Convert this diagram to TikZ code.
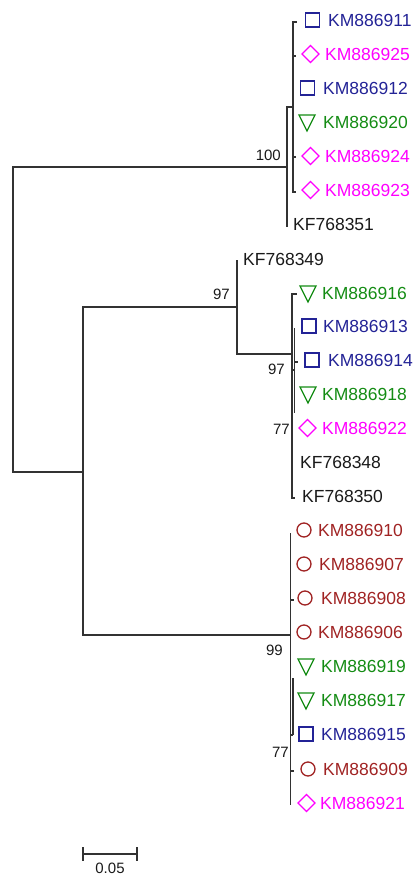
\documentclass[tikz,border=0pt]{standalone}
\usepackage{fontspec}
\setmainfont{Liberation Sans}
\usetikzlibrary{calc}
\definecolor{cblue}{RGB}{35,35,150}
\definecolor{cmag}{RGB}{255,0,255}
\definecolor{cgreen}{RGB}{20,140,20}
\definecolor{cred}{RGB}{160,35,35}
\definecolor{cline}{RGB}{50,50,50}
\definecolor{ctext}{RGB}{25,25,25}
\tikzset{
  br/.style={draw=cline,line width=1.3pt},
  lab/.style={anchor=west,inner sep=0pt,font=\fontsize{17.5}{20}\selectfont},
  bs/.style={anchor=east,inner sep=0pt,font=\fontsize{15}{18}\selectfont,text=ctext},
  mk/.style={line width=1.3pt},
  sqmk/.pic={\draw[mk,cblue] (-7,-7) rectangle (7,7);},
  diamk/.pic={\draw[mk,cmag] (-8.5,0) -- (0,-8.5) -- (8.5,0) -- (0,8.5) -- cycle;},
  trimk/.pic={\draw[mk,cgreen,line join=miter] (-8,-7) -- (8,-7) -- (0,9) -- cycle;},
  cirmk/.pic={\draw[mk,cred] (0,0) circle[radius=7];}
}
\begin{document}
\begin{tikzpicture}[x=1pt,y=-1pt]
\useasboundingbox (0,0) rectangle (415,875);
% tree coordinates
\coordinate (root) at (13,320);
\coordinate (T) at (287,167);
\coordinate (S) at (293,107);
\coordinate (t0) at (297,22);
\coordinate (t1) at (296,56);
\coordinate (t2) at (293,89);
\coordinate (t3) at (293,123);
\coordinate (t4) at (296,157);
\coordinate (t5) at (296,192);
\coordinate (t6) at (287,227);
\coordinate (L) at (83,472);
\coordinate (A) at (237,307);
\coordinate (t7) at (237,260);
\coordinate (B) at (292,354);
\coordinate (t8) at (297,294);
\coordinate (C) at (294.5,370);
\coordinate (t9) at (294.5,328);
\coordinate (t10) at (298,362);
\coordinate (c2) at (294.5,413);
\coordinate (t11) at (292,395);
\coordinate (t12) at (292,429);
\coordinate (t13) at (292,463);
\coordinate (t14) at (295,498);
\coordinate (N) at (290.5,635);
\coordinate (t15) at (290.5,533);
\coordinate (t17) at (294,600);
\coordinate (t22) at (294,771);
\coordinate (t23) at (290.5,805);
\coordinate (M) at (293,735);
\coordinate (m1) at (293,678);
% branches
\draw[br] (root) |- (T);
\draw[br] (root) |- (L);
\draw[br] (T) |- (S);
\draw[br] (T) |- (t6);
\foreach \t in {t0,t1,t2,t3,t4,t5} {\draw[br] (S) |- (\t);}
\draw[br] (L) |- (A);
\draw[br] (L) |- (N);
\draw[br] (A) |- (t7);
\draw[br] (A) |- (B);
\foreach \t in {t8,C,t11,t12,t13,t14} {\draw[br] (B) |- (\t);}
\foreach \t in {t9,t10,c2} {\draw[br] (C) |- (\t);}
\foreach \t in {t15,t17,t22,t23,M} {\draw[br] (N) |- (\t);}
\draw[br] (M) -- (m1);
% bootstrap values
\node[bs] (b100) at (281,155) {100};
\node[bs] (b97a) at (230,294) {97};
\node[bs] (b97b) at (285,369) {97};
\node[bs] (b77a) at (290,429) {77};
\node[bs] (b99) at (283,650) {99};
\node[bs] (b77b) at (289,752) {77};
% leaves: markers and labels
\pic at (312.5,20) {sqmk};   \node[lab,text=cblue]  (n0)  at (328,20)  {KM886911};
\pic at (310.5,54) {diamk}; \node[lab,text=cmag]  (n1)  at (325,54)  {KM886925};
\pic at (307.5,88) {sqmk};   \node[lab,text=cblue]  (n2)  at (323,88)  {KM886912};
\pic at (307,122) {trimk}; \node[lab,text=cgreen] (n3)  at (323,122) {KM886920};
\pic at (310.5,156) {diamk};\node[lab,text=cmag]  (n4)  at (325,156) {KM886924};
\pic at (310.5,190) {diamk};\node[lab,text=cmag]  (n5)  at (325,190) {KM886923};
\node[lab,text=ctext] (n6) at (293,224) {KF768351};
\node[lab,text=ctext] (n7) at (243,259) {KF768349};
\pic at (308,293) {trimk}; \node[lab,text=cgreen] (n8)  at (322,293) {KM886916};
\pic at (309,326) {sqmk};  \node[lab,text=cblue]  (n9)  at (323,326) {KM886913};
\pic at (312,360) {sqmk};  \node[lab,text=cblue]  (n10) at (328,360) {KM886914};
\pic at (308,394) {trimk}; \node[lab,text=cgreen] (n11) at (322,394) {KM886918};
\pic at (307.5,428) {diamk};\node[lab,text=cmag]  (n12) at (322,428) {KM886922};
\node[lab,text=ctext] (n13) at (300,462) {KF768348};
\node[lab,text=ctext] (n14) at (302,496) {KF768350};
\pic at (304,530) {cirmk}; \node[lab,text=cred]   (n15) at (318,530) {KM886910};
\pic at (304,564) {cirmk}; \node[lab,text=cred]   (n16) at (319,564) {KM886907};
\pic at (305,598) {cirmk}; \node[lab,text=cred]   (n17) at (321,598) {KM886908};
\pic at (304,632) {cirmk}; \node[lab,text=cred]   (n18) at (318,632) {KM886906};
\pic at (306,666) {trimk}; \node[lab,text=cgreen] (n19) at (321,666) {KM886919};
\pic at (306,700) {trimk}; \node[lab,text=cgreen] (n20) at (321,700) {KM886917};
\pic at (306,734) {sqmk};  \node[lab,text=cblue]  (n21) at (321,734) {KM886915};
\pic at (308,769) {cirmk}; \node[lab,text=cred]   (n22) at (323,769) {KM886909};
\pic at (306.5,803) {diamk};\node[lab,text=cmag]  (n23) at (320,803) {KM886921};
% scale bar
\coordinate (sa) at (83,854);
\coordinate (sb) at (137,854);
\draw[br] (sa) -- (sb);
\draw[br] ($(sa)+(0,-7)$) -- ($(sa)+(0,7)$);
\draw[br] ($(sb)+(0,-7)$) -- ($(sb)+(0,7)$);
\node[bs,anchor=center] (sl) at (110,868) {0.05};
\end{tikzpicture}
\end{document}
